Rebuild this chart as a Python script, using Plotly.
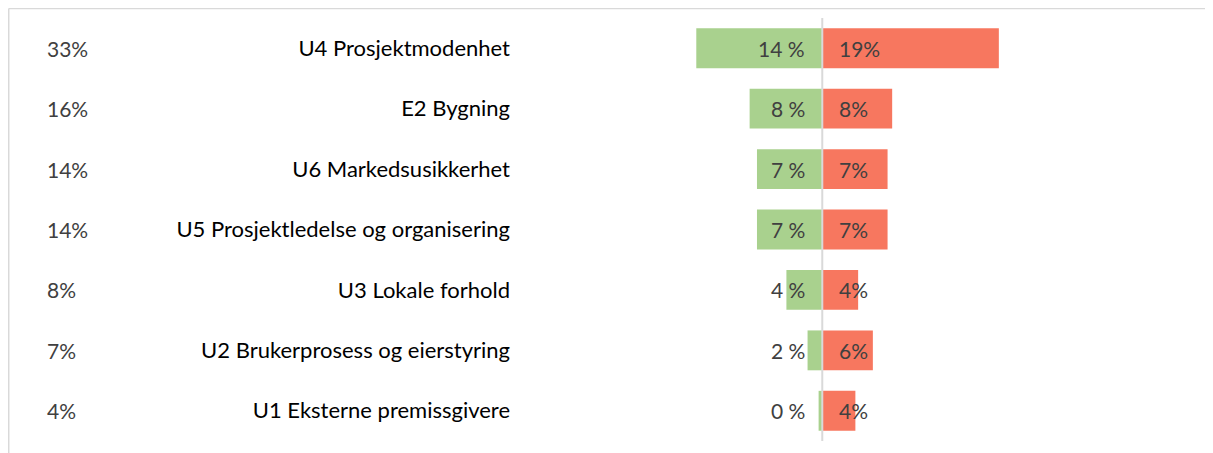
import plotly.graph_objects as go

categories = ["U4 Prosjektmodenhet", "E2 Bygning", "U6 Markedsusikkerhet",
              "U5 Prosjektledelse og organisering", "U3 Lokale forhold",
              "U2 Brukerprosess og eierstyring", "U1 Eksterne premissgivere"]
green_vals = [13.7, 7.9, 7.1, 7.1, 3.9, 1.6, 0.4]
red_vals = [19.2, 7.6, 7.1, 7.1, 3.9, 5.5, 3.6]
green_labels = ["14 %", "8 %", "7 %", "7 %", "4 %", "2 %", "0 %"]
red_labels = ["19%", "8%", "7%", "7%", "4%", "6%", "4%"]
total_labels = ["33%", "16%", "14%", "14%", "8%", "7%", "4%"]

GREEN = "#a9d18e"
RED = "#f7775f"
FONT = "Lato"
OFF = 8  # page body margin offset
W, H = 1213, 453
ML = 528 - OFF
MT = 18 - OFF
MB = H - (441 - OFF)
XMIN, XMAX = -32, 30.2
SCALE = 9.2
plot_w = (XMAX - XMIN) * SCALE
MR = W - ML - plot_w
plot_h = H - MT - MB

fig = go.Figure()
fig.add_trace(go.Bar(y=categories, x=[-v for v in green_vals], orientation="h",
                     marker=dict(color=GREEN, line=dict(width=0)), hoverinfo="skip"))
fig.add_trace(go.Bar(y=categories, x=red_vals, orientation="h",
                     marker=dict(color=RED, line=dict(width=0)), hoverinfo="skip"))

NUMFONT = dict(family=FONT, size=21, color="#404040")
ann = []
for c, gl, rl, tl in zip(categories, green_labels, red_labels, total_labels):
    ann.append(dict(x=0, y=c, xref="x", yref="y", text=gl, showarrow=False,
                    xanchor="right", xshift=-15, font=NUMFONT))
    ann.append(dict(x=0, y=c, xref="x", yref="y", text=rl, showarrow=False,
                    xanchor="left", xshift=15, font=NUMFONT))
    ann.append(dict(x=(45 - OFF - ML) / plot_w, y=c, xref="paper", yref="y", text=tl,
                    showarrow=False, xanchor="left", font=NUMFONT))

bx = (0.5 - ML) / plot_w
by = (H - MB - 0.5) / plot_h
shapes = [
    dict(type="line", xref="x", yref="paper", x0=0, x1=0, y0=0, y1=1,
         line=dict(color="#d9d9d9", width=2), layer="above"),
    dict(type="line", xref="paper", yref="paper", x0=bx, x1=(W - ML) / plot_w,
         y0=by, y1=by, line=dict(color="#d9d9d9", width=1.5)),
    dict(type="line", xref="paper", yref="paper", x0=bx, x1=bx,
         y0=by, y1=-MB / plot_h, line=dict(color="#d9d9d9", width=1.5)),
]

fig.update_layout(
    width=W, height=H, barmode="relative", bargap=0.34,
    margin=dict(l=ML, r=MR, t=MT, b=MB),
    plot_bgcolor="white", paper_bgcolor="white", showlegend=False,
    xaxis=dict(range=[XMIN, XMAX], showgrid=False, zeroline=False, showticklabels=False,
               showline=False, fixedrange=True),
    yaxis=dict(autorange="reversed", showgrid=False, zeroline=False, showline=False,
               ticks="", ticklabelstandoff=17,
               tickfont=dict(family=FONT, size=22, color="#000000")),
    annotations=ann, shapes=shapes,
)
fig.write_html("out.html")
